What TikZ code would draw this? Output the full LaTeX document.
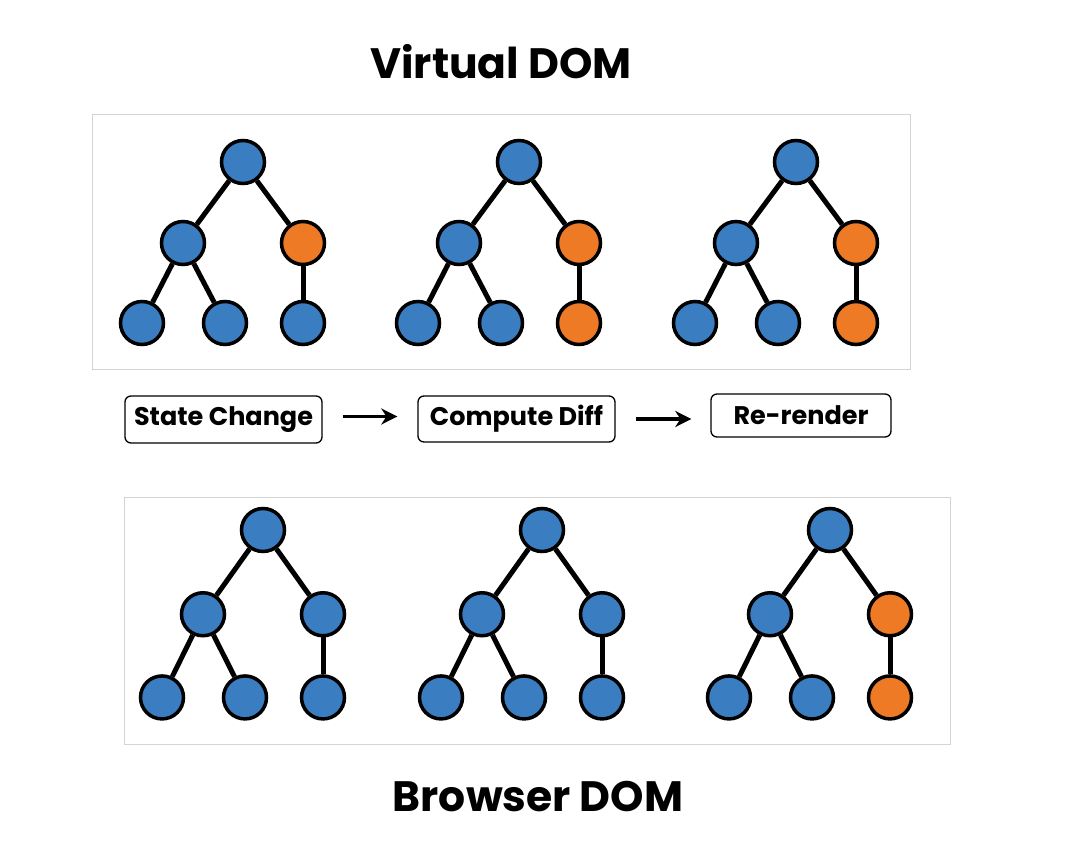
\documentclass[tikz,border=0pt]{standalone}
\usepackage{fontspec}
\setmainfont{Poppins}[BoldFont={* Bold}]
\usepackage{tikz}
\usetikzlibrary{arrows.meta,positioning}

\definecolor{NodeBlue}{HTML}{3A7DC1}
\definecolor{NodeOrange}{HTML}{EF7A26}
\definecolor{PanelGray}{HTML}{D4D4D4}

\tikzset{
  dom/.style={circle, draw=black, line width=3.5pt, minimum size=43pt, inner sep=0pt},
  edge/.style={line width=5pt},
  panel/.style={draw=PanelGray, line width=1pt},
  stagebox/.style={draw=black, line width=1.3pt, rounded corners=6pt, inner sep=0pt,
    font=\bfseries\fontsize{25.5}{28}\selectfont},
  title/.style={font=\bfseries\fontsize{42.5}{46}\selectfont},
  flow/.style={-{Stealth[length=16pt,width=16pt,inset=5pt]}, line width=3.2pt}
}

\begin{document}
\begin{tikzpicture}[x=1pt,y=-1pt]
\useasboundingbox (0,0) rectangle (1080,861);

\node[title] (vdom) at (501,62) {Virtual DOM};
\node[title] (bdom) at (538,797) {Browser DOM};

\draw[panel] (92,115) rectangle (910,369);
\draw[panel] (124,497) rectangle (950,744);

% trees: root x / root y / vertical scale / colour of right branch / colour of right leaf / name
\foreach \x/\y/\s/\cm/\cl/\n in {
  243/162/1/NodeOrange/NodeBlue/va,
  519/162/1/NodeOrange/NodeOrange/vb,
  796/162/1/NodeOrange/NodeOrange/vc,
  263/530/1.04/NodeBlue/NodeBlue/ba,
  542/530/1.04/NodeBlue/NodeBlue/bb,
  830/530/1.04/NodeOrange/NodeOrange/bc}{
  \node[dom, fill=NodeBlue] (\n-r) at (\x,\y) {};
  \node[dom, fill=NodeBlue] (\n-ml) at (\x-60,\y+81*\s) {};
  \node[dom, fill=\cm] (\n-mr) at (\x+60,\y+81*\s) {};
  \node[dom, fill=NodeBlue] (\n-l1) at (\x-101,\y+161*\s) {};
  \node[dom, fill=NodeBlue] (\n-l2) at (\x-18,\y+161*\s) {};
  \node[dom, fill=\cl] (\n-l3) at (\x+60,\y+161*\s) {};
  \draw[edge] (\n-r) -- (\n-ml);
  \draw[edge] (\n-r) -- (\n-mr);
  \draw[edge] (\n-ml) -- (\n-l1);
  \draw[edge] (\n-ml) -- (\n-l2);
  \draw[edge] (\n-mr) -- (\n-l3);
}

\node[stagebox, minimum width=197pt, minimum height=47pt] (state) at (223.5,419.5) {State Change};
\node[stagebox, minimum width=197pt, minimum height=46pt] (diff) at (516.5,419) {Compute Diff};
\node[stagebox, minimum width=180pt, minimum height=43pt] (render) at (801,415.5) {Re-render};

\draw[flow, shorten <=20pt, shorten >=20pt] ([yshift=3pt]state.east) -- ([yshift=3pt]state.east -| diff.west);
\draw[flow, shorten <=20pt, shorten >=19pt] (diff.east) -- (diff.east -| render.west);
\end{tikzpicture}
\end{document}
